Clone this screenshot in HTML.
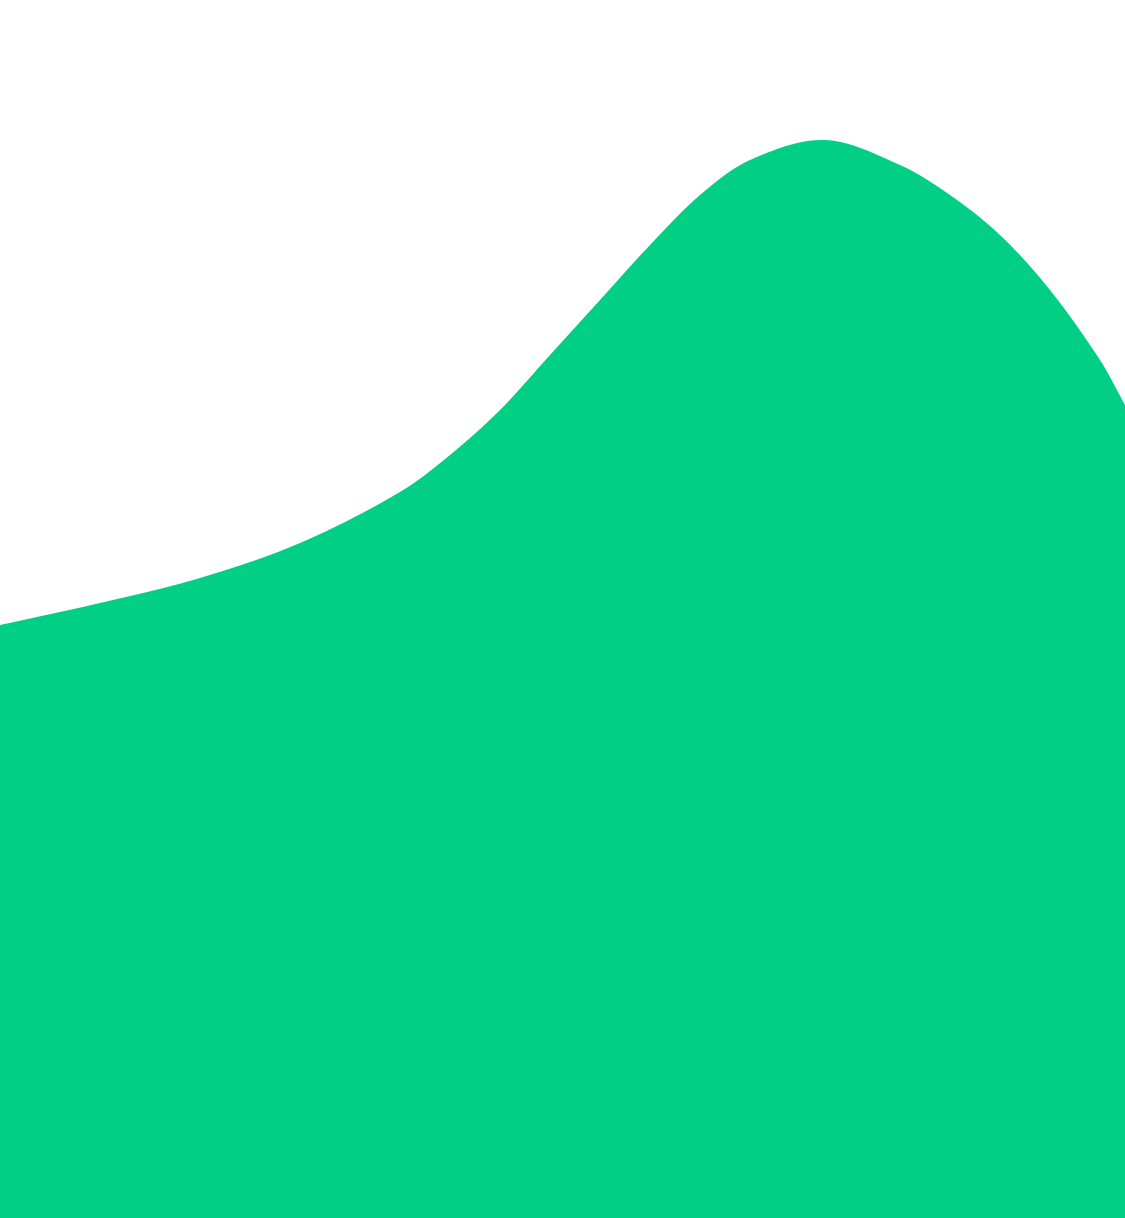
<!DOCTYPE html>
<html>
<head>
<meta charset="utf-8">
<style>
  html,body{margin:0;padding:0;background:#ffffff;}
  svg{display:block;}
</style>
</head>
<body>
<svg id="chart" width="1125" height="1218" viewBox="0 0 1125 1218" xmlns="http://www.w3.org/2000/svg">
  <path id="area" fill="#00cf85" d=""></path>
</svg>
<script>
const xValues = [0, 100, 200, 300, 400, 450, 500, 550, 600, 650, 700, 750, 825, 900, 950, 1000, 1050, 1100, 1125];
const values = [593, 615, 640, 675, 726, 763, 808, 863, 918, 973, 1023, 1058, 1078, 1053, 1023, 983, 928, 858, 813];
const xMax = 1125;
const yMax = 1218;

const W = 1125, H = 1218;
function xScale(x){ return x * W / xMax; }
function yScale(v){ return H - v * H / yMax; }

const pts = values.map((v,i)=>[xScale(xValues[i]), yScale(v)]);
let d = "M" + pts[0][0] + "," + pts[0][1];
for (let i = 0; i < pts.length - 1; i++) {
  const p0 = pts[i-1] || pts[i], p1 = pts[i], p2 = pts[i+1], p3 = pts[i+2] || pts[i+1];
  const h = p2[0] - p1[0];
  const m1 = (p2[1]-p0[1])/((p2[0]-p0[0])||1);
  const m2 = (p3[1]-p1[1])/((p3[0]-p1[0])||1);
  const c1x = p1[0] + h/3, c1y = p1[1] + m1*h/3;
  const c2x = p2[0] - h/3, c2y = p2[1] - m2*h/3;
  d += " C" + c1x + "," + c1y + " " + c2x + "," + c2y + " " + p2[0] + "," + p2[1];
}
d += " L" + W + "," + H + " L0," + H + " Z";
document.getElementById("area").setAttribute("d", d);
</script>
</body>
</html>
